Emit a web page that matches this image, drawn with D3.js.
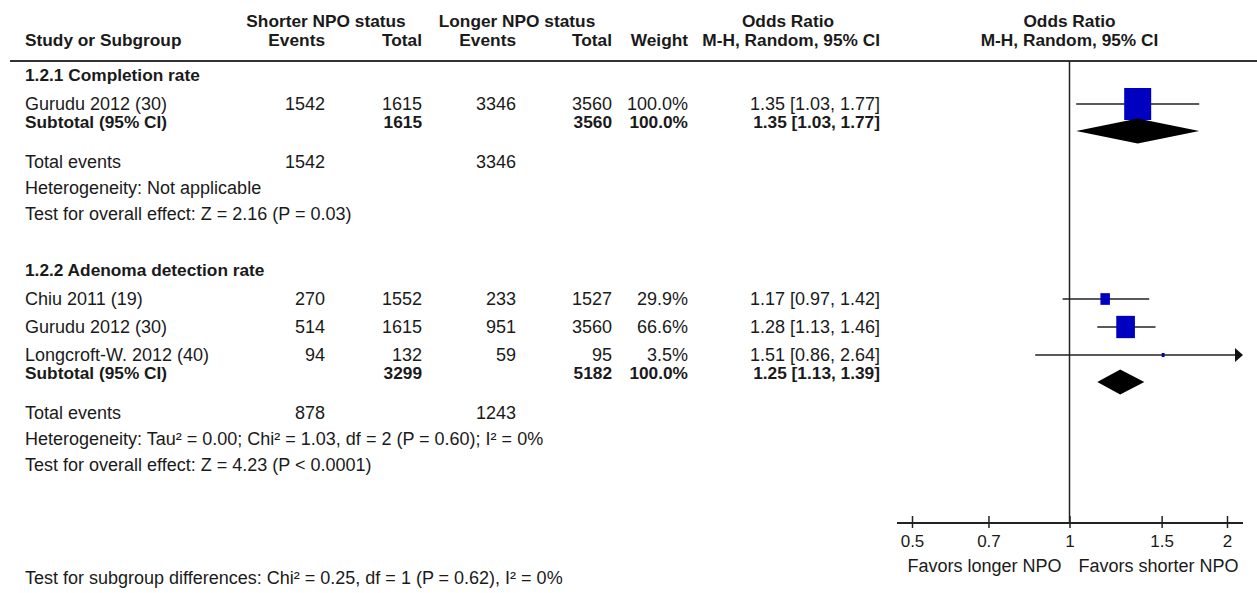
<!DOCTYPE html>
<html>
<head>
<meta charset="utf-8">
<script src="https://cdn.jsdelivr.net/npm/d3@7"></script>
<style>
    html, body { margin: 0; padding: 0; background: #fff; }
    #chart { width: 1257px; height: 593px; }
    text { font-family: "Liberation Sans", Arial, sans-serif; fill: #1a1a1a; }
    .bold { font-weight: bold; font-size: 17.3px; }
    .reg { font-size: 18px; }
</style>
</head>
<body>
<div id="chart"></div>
<script>
// forest plot: NPO status, odds ratios (M-H, random)

const groupNames = ["1.2.1 Completion rate", "1.2.2 Adenoma detection rate"];

const studyNames = ["Gurudu 2012 (30)", "Chiu 2011 (19)", "Gurudu 2012 (30)", "Longcroft-W. 2012 (40)"];
const studyGroup = [0, 1, 1, 1];
const eventsShort = [1542, 270, 514, 94];
const totalShort = [1615, 1552, 1615, 132];
const eventsLong = [3346, 233, 951, 59];
const totalLong = [3560, 1527, 3560, 95];
const weights = [100.0, 29.9, 66.6, 3.5];
const orEst = [1.35, 1.17, 1.28, 1.51];
const orLow = [1.03, 0.97, 1.13, 0.86];
const orHigh = [1.77, 1.42, 1.46, 2.64];

const subTotalShort = [1615, 3299];
const subTotalLong = [3560, 5182];
const subEventsShort = [1542, 878];
const subEventsLong = [3346, 1243];
const subOr = [1.35, 1.25];
const subLow = [1.03, 1.13];
const subHigh = [1.77, 1.39];
const heterogeneity = [
    "Heterogeneity: Not applicable",
    "Heterogeneity: Tau\u00B2 = 0.00; Chi\u00B2 = 1.03, df = 2 (P = 0.60); I\u00B2 = 0%"
];
const overallEffect = [
    "Test for overall effect: Z = 2.16 (P = 0.03)",
    "Test for overall effect: Z = 4.23 (P < 0.0001)"
];
const subgroupTest = "Test for subgroup differences: Chi\u00B2 = 0.25, df = 1 (P = 0.62), I\u00B2 = 0%";

const axisTicks = [0.5, 0.7, 1, 1.5, 2];
const axisLabels = ["0.5", "0.7", "1", "1.5", "2"];
const favorsLabels = ["Favors longer NPO", "Favors shorter NPO"];

class ForestPlot {
    constructor(containerId) {
        this.container = d3.select(containerId);
        this.draw();
    }

    fmtCI(o, l, h) {
        return `${o.toFixed(2)} [${l.toFixed(2)}, ${h.toFixed(2)}]`;
    }

    draw() {
        const svg = this.container.append("svg")
            .attr("width", 1257)
            .attr("height", 593);

        svg.append("rect").attr("width", 1257).attr("height", 593).attr("fill", "#fff");

        // column right edges
        const col = { name: 25, evS: 325, totS: 422, evL: 516, totL: 612, wt: 688, ci: 880 };

        const x = d3.scaleLog().domain([0.5, 2]).range([912, 1227]);
        const xMin = x.range()[0] - 15, xMax = x.range()[1] + 16;
        const axisY = 523, ruleY = 61;

        const wScale = d3.scaleLinear().domain([0, 100]).range([2, 27]);
        const hScale = d3.scaleLinear().domain([0, 100]).range([3, 32]);

        const txt = (t, xx, yy, cls, anchor) => svg.append("text")
            .attr("x", xx).attr("y", yy + 6)
            .attr("class", cls)
            .attr("text-anchor", anchor || "start")
            .text(t);

        // header
        txt("Shorter NPO status", 326, 21, "bold", "middle");
        txt("Longer NPO status", 517, 21, "bold", "middle");
        txt("Odds Ratio", 788, 21, "bold", "middle");
        txt("Odds Ratio", x(1), 21, "bold", "middle");
        txt("Study or Subgroup", col.name, 40, "bold");
        txt("Events", col.evS, 40, "bold", "end");
        txt("Total", col.totS, 40, "bold", "end");
        txt("Events", col.evL, 40, "bold", "end");
        txt("Total", col.totL, 40, "bold", "end");
        txt("Weight", col.wt, 40, "bold", "end");
        txt("M-H, Random, 95% CI", col.ci, 40, "bold", "end");
        txt("M-H, Random, 95% CI", x(1), 40, "bold", "middle");

        svg.append("line")
            .attr("x1", 10).attr("x2", 1257)
            .attr("y1", ruleY).attr("y2", ruleY)
            .attr("stroke", "#333").attr("stroke-width", 2);

        // vertical line of no effect
        svg.append("line")
            .attr("x1", x(1)).attr("x2", x(1))
            .attr("y1", ruleY).attr("y2", axisY)
            .attr("stroke", "#222").attr("stroke-width", 1.5);

        let y = ruleY + 14;
        groupNames.forEach((g, gi) => {
            txt(g, col.name, y, "bold");
            const idx = studyNames.map((_, i) => i).filter(i => studyGroup[i] === gi);
            let sy = y + 29;
            let lastY = sy;
            idx.forEach(i => {
                txt(studyNames[i], col.name, sy, "reg");
                txt(eventsShort[i], col.evS, sy, "reg", "end");
                txt(totalShort[i], col.totS, sy, "reg", "end");
                txt(eventsLong[i], col.evL, sy, "reg", "end");
                txt(totalLong[i], col.totL, sy, "reg", "end");
                txt(weights[i].toFixed(1) + "%", col.wt, sy, "reg", "end");
                txt(this.fmtCI(orEst[i], orLow[i], orHigh[i]), col.ci, sy, "reg", "end");

                const x1 = Math.max(xMin, x(orLow[i]));
                const x2 = Math.min(xMax - 8, x(orHigh[i]));
                svg.append("line")
                    .attr("x1", x1).attr("x2", x2)
                    .attr("y1", sy).attr("y2", sy)
                    .attr("stroke", "#222").attr("stroke-width", 1.6);
                if (x(orHigh[i]) > xMax) {
                    svg.append("path")
                        .attr("d", `M${xMax - 8},${sy - 7}L${xMax},${sy}L${xMax - 8},${sy + 7}Z`)
                        .attr("fill", "#111");
                }
                const w = wScale(weights[i]), h = hScale(weights[i]);
                svg.append("rect")
                    .attr("x", x(orEst[i]) - w / 2).attr("y", sy - h / 2)
                    .attr("width", w).attr("height", h)
                    .attr("fill", "#0000c0");
                lastY = sy;
                sy += 28;
            });

            const subY = lastY + 18;
            txt("Subtotal (95% CI)", col.name, subY, "bold");
            txt(subTotalShort[gi], col.totS, subY, "bold", "end");
            txt(subTotalLong[gi], col.totL, subY, "bold", "end");
            txt("100.0%", col.wt, subY, "bold", "end");
            txt(this.fmtCI(subOr[gi], subLow[gi], subHigh[gi]), col.ci, subY, "bold", "end");

            const dy = lastY + 27;
            svg.append("path")
                .attr("d", `M${x(subLow[gi])},${dy}L${x(subOr[gi])},${dy - 12.5}L${x(subHigh[gi])},${dy}L${x(subOr[gi])},${dy + 12.5}Z`)
                .attr("fill", "#000");

            const teY = subY + 40;
            txt("Total events", col.name, teY, "reg");
            txt(subEventsShort[gi], col.evS, teY, "reg", "end");
            txt(subEventsLong[gi], col.evL, teY, "reg", "end");
            txt(heterogeneity[gi], col.name, teY + 26, "reg");
            txt(overallEffect[gi], col.name, teY + 52, "reg");
            y = teY + 52 + 56;
        });

        txt(subgroupTest, col.name, 578, "reg");

        // axis
        const axis = svg.append("g")
            .attr("transform", `translate(0,${axisY})`)
            .call(d3.axisBottom(x).tickValues(axisTicks)
                .tickFormat((d, i) => axisLabels[i]).tickSizeOuter(0));
        axis.select(".domain").remove();
        axis.selectAll(".tick line")
            .attr("y1", -7).attr("y2", 5)
            .attr("stroke", "#222").attr("stroke-width", 1.5);
        axis.selectAll(".tick text")
            .attr("y", 24).attr("dy", 0)
            .attr("class", "reg")
            .style("font-size", "17px")
            .style("fill", "#1a1a1a");
        axis.append("line")
            .attr("x1", xMin).attr("x2", xMax)
            .attr("stroke", "#222").attr("stroke-width", 2);

        txt(favorsLabels[0], x(1) - 8, 566, "reg", "end");
        txt(favorsLabels[1], x(1) + 9, 566, "reg", "start");
    }
}

new ForestPlot("#chart");
</script>
</body>
</html>
